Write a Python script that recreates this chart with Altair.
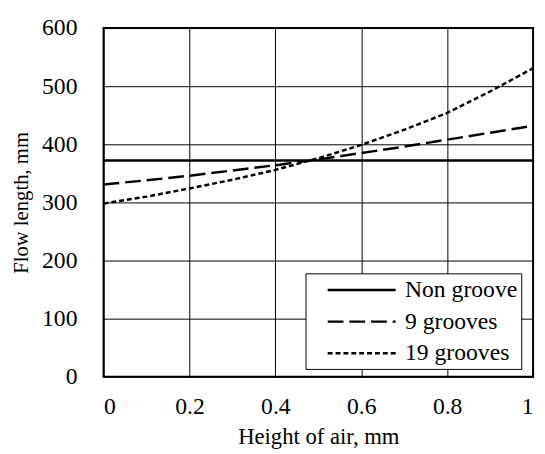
import altair as alt
import pandas as pd

x_vals = [0.0, 0.1, 0.2, 0.3, 0.4, 0.5, 0.6, 0.7, 0.8, 0.9, 1.0]
non_groove = [372, 372, 372, 372, 372, 372, 372, 372, 372, 372, 372]
grooves_9 = [331, 338, 346, 355, 364, 374, 385, 396, 408, 420, 432]
grooves_19 = [298, 310, 324, 339, 356, 376, 399, 425, 454, 491, 531]
series = ["Non groove", "9 grooves", "19 grooves"]

rows = []
for name, vals in zip(series, [non_groove, grooves_9, grooves_19]):
    for xv, yv in zip(x_vals, vals):
        rows.append({"x": xv, "y": yv, "series": name})
df = pd.DataFrame(rows)

FONT = "Liberation Serif"
FS = 24

chart = alt.Chart(df).mark_line(color="black", strokeWidth=2.5).encode(
    x=alt.X("x:Q", scale=alt.Scale(domain=[0, 1], nice=False),
            axis=alt.Axis(title="Height of air, mm", values=[0, 0.2, 0.4, 0.6, 0.8, 1],
                          format="~g", tickSize=0, labelPadding=18, titlePadding=8,
                          labelFont=FONT, labelFontSize=FS, titleFont=FONT, titleFontSize=23)),
    y=alt.Y("y:Q", scale=alt.Scale(domain=[0, 600], nice=False),
            axis=alt.Axis(title="Flow length, mm", values=[0, 100, 200, 300, 400, 500, 600],
                          tickSize=0, labelPadding=27, titlePadding=10,
                          labelFont=FONT, labelFontSize=FS, titleFont=FONT, titleFontSize=21)),
    strokeDash=alt.StrokeDash("series:N",
        scale=alt.Scale(domain=series, range=[[1, 0], [16, 6], [5, 3]]),
        legend=alt.Legend(title=None, orient="none", legendX=205, legendY=249,
                          symbolType="M-1,0H5", symbolSize=529, symbolStrokeWidth=2.5,
                          symbolStrokeColor="black", symbolOffset=17,
                          labelOffset=54, rowPadding=7,
                          labelExpr="datum.label + '\u00a0'",
                          padding=4, strokeColor="black", fillColor="white",
                          labelFontSize=FS, labelFont=FONT, labelColor="black")),
    detail="series:N",
).properties(
    width=436, height=354,
    autosize=alt.AutoSizeParams(type="none"),
    padding={"left": 97, "top": 17, "right": 4, "bottom": 75},
).configure_view(
    stroke="black", strokeWidth=2
).configure_axis(
    grid=True, gridColor="black", gridWidth=1, gridOpacity=1,
    domain=False,
    labelColor="black", titleColor="black", titleFontWeight="normal",
)

chart.save("out.html", embed_options={"renderer": "svg", "actions": False})
